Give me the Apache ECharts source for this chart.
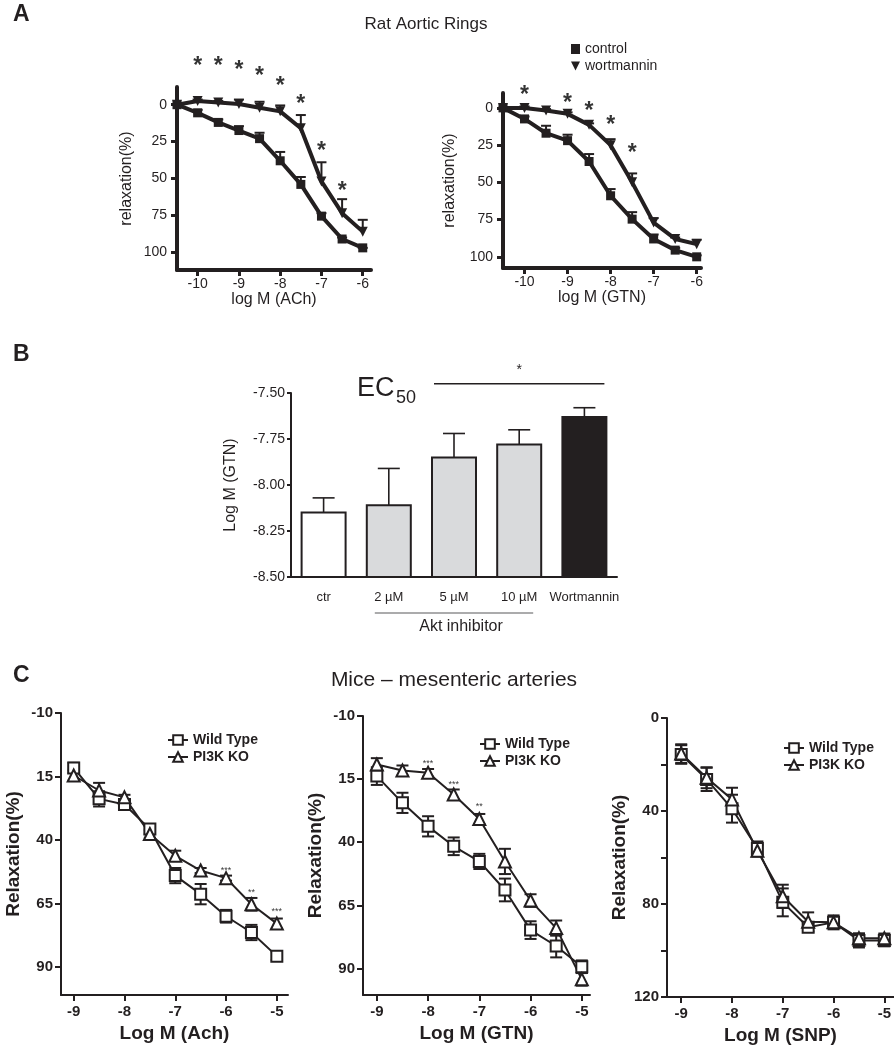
<!DOCTYPE html>
<html><head><meta charset="utf-8">
<script src="https://cdn.jsdelivr.net/npm/echarts@6/dist/echarts.min.js"></script>
<style>html,body{margin:0;padding:0;background:#fff}#c{width:894px;height:1050px}</style>
</head><body><div id="c"></div>
<script>
// ---------- Panel A : Rat aortic rings ----------
const logA = [-10.5,-10,-9.5,-9,-8.5,-8,-7.5,-7,-6.5,-6];
const achCtrl = [0,5.5,12,17.5,23,38,54,75.5,91,97];
const achCtrlErr = [0,2,2,3,4,6,5,2,1,0];
const achWort = [0,-2.5,-1.5,-0.5,2,4.5,16,52,73.5,86];
const achWortErr = [0,1,1,3,4,4,9,13,9.5,8];
const achStarX = [-10,-9.5,-9,-8.5,-8,-7.5,-7,-6.5];
const achStarY = [-28,-28,-25,-21,-14,-2,30,57];
const gtnCtrl = [0,7.4,17,22,36,59,74.7,88,95.5,100];
const gtnCtrlErr = [0,1.6,5,4,5,4.5,4.7,3,1.5,1];
const gtnWort = [0,0,1.8,4,11.4,25,50,77,88,91.5];
const gtnWortErr = [0,1,1,1,1,4,6,3,1,3];
const gtnStarX = [-10,-9,-8.5,-8,-7.5];
const gtnStarY = [-10.5,-5,0.2,10,28.7];
const aYTicks = [0,25,50,75,100];
const aXTicks = [-10,-9,-8,-7,-6];

// ---------- Panel B : EC50 ----------
const ec50Cats = ['ctr','2 \u00b5M','5 \u00b5M','10 \u00b5M','Wortmannin'];
const ec50Vals = [-8.15,-8.11,-7.85,-7.78,-7.63];
const ec50Err = [0.08,0.20,0.13,0.08,0.05];

// ---------- Panel C : Mice mesenteric arteries ----------
const logC = [-9,-8.5,-8,-7.5,-7,-6.5,-6,-5.5,-5];
const cXTicks = [-9,-8,-7,-6,-5];
const cYTicks = [-10,15,40,65,90];
const snpYTicks = [0,20,40,60,80,100,120];
const snpYLabels = [0,40,80,120];
const achWT = [11.6,23.8,26,35.7,54,61.3,70,76.4,85.7];
const achWTErr = [2,3,1.5,2,3,4,2.5,3,1.5];
const achKO = [14.6,20.5,23.2,37.6,46.2,52,55,65.3,72.9];
const achKOErr = [2,3,1,1.5,2,1,1,2.5,2];
const achCStarX = [-6,-5.5,-5];
const achCStarY = [51.4,60,67.2];
const achCStarTxt = ['***','**','***'];
const gtnWT = [13.8,24.4,33.7,41.6,47.6,58.9,74.8,81.1,89.3];
const gtnWTErr = [3.5,4,4,3.5,3,4.5,3.5,4.5,2.5];
const gtnKO = [9.2,11.6,12.5,21.1,30.8,47.6,63.1,74,94.3];
const gtnKOErr = [2.5,2,1.5,2,2,5,2.5,3,2.5];
const gtnCStarX = [-8,-7.5,-7];
const gtnCStarY = [7.9,16.5,25.1];
const gtnCStarTxt = ['***','***','**'];
const snpWT = [15.7,26.4,39,56.1,79.3,90,87.9,95.7,95.7];
const snpWTErr = [4,5,6,3,6,2,2,3,2.5];
const snpKO = [15.3,25.7,35,57.1,76.7,87.6,87.9,94.7,94.7];
const snpKOErr = [4,4.5,5,2.5,5,4,3,2,2];

// ---------- styling ----------
const INK = '#231f20';
const FONT = '"Liberation Sans", Arial, sans-serif';
const barFill = ['#ffffff','#d9dadc','#d9dadc','#d9dadc','#231f20'];

const zip = (xs, ys) => xs.map((x, i) => [x, ys[i]]);

function errSeries(ax, xs, vs, es, mode, lw, cap) {
  return {
    type: 'custom', xAxisIndex: ax, yAxisIndex: ax, silent: true, z: 2, clip: false,
    encode: { x: 0, y: [1, 2, 3] },
    data: xs.map((x, i) => [x, vs[i], vs[i] - es[i], vs[i] + es[i]]),
    renderItem: function (p, api) {
      const x = api.value(0), v = api.value(1), lo = api.value(2), hi = api.value(3);
      const st = { stroke: INK, lineWidth: lw };
      let a, b;
      if (mode === 'up') { a = api.coord([x, v]); b = api.coord([x, lo]); }
      else { a = api.coord([x, lo]); b = api.coord([x, hi]); }
      const ch = [
        { type: 'line', shape: { x1: a[0], y1: a[1], x2: b[0], y2: b[1] }, style: st },
        { type: 'line', shape: { x1: b[0] - cap, y1: b[1], x2: b[0] + cap, y2: b[1] }, style: st }
      ];
      if (mode !== 'up') ch.push({ type: 'line', shape: { x1: a[0] - cap, y1: a[1], x2: a[0] + cap, y2: a[1] }, style: st });
      return { type: 'group', children: ch };
    }
  };
}

function lineA(ax, name, ys, sym, rot) {
  return {
    type: 'line', name: name, xAxisIndex: ax, yAxisIndex: ax, data: zip(logA, ys),
    symbol: sym, symbolRotate: rot, symbolSize: sym === 'rect' ? 9 : 10, z: 3,
    lineStyle: { color: INK, width: 4 }, itemStyle: { color: INK }, silent: true
  };
}
function lineC(ax, name, ys, sym) {
  return {
    type: 'line', name: name, xAxisIndex: ax, yAxisIndex: ax, data: zip(logC, ys),
    symbol: sym, symbolSize: sym === 'rect' ? 11 : 12, z: 3,
    lineStyle: { color: INK, width: 2 },
    itemStyle: { color: '#ffffff', borderColor: INK, borderWidth: 2 }, silent: true
  };
}
function stars(ax, xs, ys, txt, size, dy, weight) {
  return {
    type: 'scatter', xAxisIndex: ax, yAxisIndex: ax, clip: false, silent: true, z: 5,
    symbol: 'circle', symbolSize: 1, itemStyle: { color: 'rgba(0,0,0,0)' },
    data: xs.map((x, i) => ({ value: [x, ys[i]], label: { formatter: Array.isArray(txt) ? txt[i] : txt } })),
    label: { show: true, position: 'inside', color: '#000000', fontSize: size, fontWeight: weight, fontFamily: FONT, offset: [0, dy] }
  };
}

function xAxisA(gi, min, max, name) {
  return {
    type: 'value', gridIndex: gi, min: min, max: max, name: name, nameLocation: 'middle', nameGap: 22,
    nameTextStyle: { fontSize: 16, color: INK, fontFamily: FONT },
    axisLine: { onZero: false, lineStyle: { color: INK, width: 4 } },
    axisTick: { length: 6, lineStyle: { width: 3, color: INK }, customValues: aXTicks },
    axisLabel: { fontSize: 14, color: INK, fontFamily: FONT, margin: 7, customValues: aXTicks },
    splitLine: { show: false }
  };
}
function yAxisA(gi, min, max, gap) {
  return {
    type: 'value', gridIndex: gi, min: min, max: max, inverse: true, name: 'relaxation(%)',
    nameLocation: 'middle', nameGap: gap, nameTextStyle: { fontSize: 16, color: INK, fontFamily: FONT },
    axisLine: { onZero: false, lineStyle: { color: INK, width: 4 } },
    axisTick: { length: 6, lineStyle: { width: 3, color: INK }, customValues: aYTicks },
    axisLabel: { fontSize: 14, color: INK, fontFamily: FONT, margin: 10, customValues: aYTicks },
    splitLine: { show: false }
  };
}
function xAxisC(gi, min, max, name) {
  return {
    type: 'value', gridIndex: gi, min: min, max: max, name: name, nameLocation: 'middle', nameGap: 29,
    nameTextStyle: { fontSize: 19, fontWeight: 'bold', color: INK, fontFamily: FONT },
    axisLine: { onZero: false, lineStyle: { color: INK, width: 2 } },
    axisTick: { length: 6, lineStyle: { width: 2, color: INK }, customValues: cXTicks },
    axisLabel: { fontSize: 15, fontWeight: 'bold', color: INK, fontFamily: FONT, margin: 9, customValues: cXTicks },
    splitLine: { show: false }
  };
}
function yAxisC(gi, min, max, ticks, labels, gap) {
  return {
    type: 'value', gridIndex: gi, min: min, max: max, inverse: true, name: 'Relaxation(%)',
    nameLocation: 'middle', nameGap: gap,
    nameTextStyle: { fontSize: 19, fontWeight: 'bold', color: INK, fontFamily: FONT },
    axisLine: { onZero: false, lineStyle: { color: INK, width: 2 } },
    axisTick: { length: 6, lineStyle: { width: 2, color: INK }, customValues: ticks },
    axisLabel: { fontSize: 15, fontWeight: 'bold', color: INK, fontFamily: FONT, margin: 8, customValues: labels },
    splitLine: { show: false }
  };
}
function legendC(left, top) {
  return {
    left: left, top: top, orient: 'vertical', itemWidth: 20, itemHeight: 12, itemGap: 3,
    textStyle: { fontSize: 14, fontWeight: 'bold', color: INK, fontFamily: FONT },
    data: ['Wild Type', 'PI3K KO'], selectedMode: false
  };
}

const option = {
  animation: false,
  backgroundColor: '#ffffff',
  textStyle: { fontFamily: FONT, color: INK },
  grid: [
    { left: 177, top: 87, width: 194, height: 183 },
    { left: 503, top: 93, width: 198, height: 175 },
    { left: 291, top: 393, width: 326, height: 184 },
    { left: 61, top: 713, width: 227, height: 282 },
    { left: 363, top: 716, width: 227, height: 279 },
    { left: 667, top: 718, width: 227, height: 279 }
  ],
  xAxis: [
    xAxisA(0, -10.5, -5.8, 'log M (ACh)'),
    xAxisA(1, -10.5, -5.9, 'log M (GTN)'),
    {
      type: 'category', gridIndex: 2, data: ec50Cats,
      axisLine: { onZero: false, lineStyle: { color: INK, width: 2 } },
      axisTick: { alignWithLabel: true, length: 5, lineStyle: { width: 2, color: INK } },
      axisLabel: { interval: 0, fontSize: 13, color: INK, fontFamily: FONT, margin: 14 }
    },
    xAxisC(3, -9.25, -4.78, 'Log M (Ach)'),
    xAxisC(4, -9.27, -4.84, 'Log M (GTN)'),
    xAxisC(5, -9.28, -4.81, 'Log M (SNP)')
  ],
  yAxis: [
    yAxisA(0, -12, 112, 42),
    yAxisA(1, -10, 107.5, 45),
    {
      type: 'value', gridIndex: 2, min: -8.5, max: -7.5, interval: 0.25,
      name: 'Log M (GTN)', nameLocation: 'middle', nameGap: 52,
      nameTextStyle: { fontSize: 16, color: INK, fontFamily: FONT },
      axisLine: { show: true, onZero: false, lineStyle: { color: INK, width: 2 } },
      axisTick: { show: true, length: 4, lineStyle: { width: 2, color: INK } },
      axisLabel: { fontSize: 14, color: INK, fontFamily: FONT, margin: 6, formatter: v => v.toFixed(2) },
      splitLine: { show: false }
    },
    yAxisC(3, -10, 101, cYTicks, cYTicks, 38),
    yAxisC(4, -10, 100.5, cYTicks, cYTicks, 38),
    yAxisC(5, 0, 120, snpYTicks, snpYLabels, 38)
  ],
  legend: [
    {
      left: 566, top: 37, orient: 'vertical', itemWidth: 9, itemHeight: 10, itemGap: 3,
      textStyle: { fontSize: 14, color: INK, fontFamily: FONT },
      data: [{ name: 'control', icon: 'rect' }, { name: 'wortmannin', icon: 'path://M0,0L10,0L5,10Z' }],
      selectedMode: false
    },
    legendC(162, 728),
    legendC(474, 732),
    legendC(778, 736)
  ],
  graphic: [
    { type: 'text', left: 13, top: 3, style: { text: 'A', font: 'bold 23px ' + FONT, fill: INK } },
    { type: 'text', x: 426, y: 24, style: { text: 'Rat Aortic Rings', font: '17px ' + FONT, fill: INK, align: 'center', verticalAlign: 'middle' } },
    { type: 'text', left: 13, top: 343, style: { text: 'B', font: 'bold 23px ' + FONT, fill: INK } },
    { type: 'text', x: 357, y: 389, style: { text: 'EC', font: '27px ' + FONT, fill: INK, verticalAlign: 'middle' } },
    { type: 'text', x: 396, y: 398, style: { text: '50', font: '18px ' + FONT, fill: INK, verticalAlign: 'middle' } },
    { type: 'text', left: 13, top: 664, style: { text: 'C', font: 'bold 23px ' + FONT, fill: INK } },
    { type: 'text', x: 454, y: 680, style: { text: 'Mice \u2013 mesenteric arteries', font: '21px ' + FONT, fill: INK, align: 'center', verticalAlign: 'middle' } }
  ],
  series: [
    // A left (ACh)
    errSeries(0, logA, achCtrl, achCtrlErr, 'up', 2, 5),
    errSeries(0, logA, achWort, achWortErr, 'up', 2, 5),
    lineA(0, 'control', achCtrl, 'rect', 0),
    lineA(0, 'wortmannin', achWort, 'triangle', 180),
    stars(0, achStarX, achStarY, '*', 23, 3, 'bold'),
    // A right (GTN)
    errSeries(1, logA, gtnCtrl, gtnCtrlErr, 'up', 2, 5),
    errSeries(1, logA, gtnWort, gtnWortErr, 'up', 2, 5),
    lineA(1, 'control', gtnCtrl, 'rect', 0),
    lineA(1, 'wortmannin', gtnWort, 'triangle', 180),
    stars(1, gtnStarX, gtnStarY, '*', 23, 3, 'bold'),
    // B bars
    {
      type: 'custom', xAxisIndex: 2, yAxisIndex: 2, silent: true, clip: false,
      encode: { x: 0, y: [1, 2] },
      data: ec50Vals.map((v, i) => [i, v, v + ec50Err[i]]),
      renderItem: function (p, api) {
        const i = api.value(0);
        const base = api.coord([i, -8.5]), top = api.coord([i, api.value(1)]), et = api.coord([i, api.value(2)]);
        const w = 44, st = { stroke: INK, lineWidth: 1.6 };
        return { type: 'group', children: [
          { type: 'line', shape: { x1: top[0], y1: top[1], x2: et[0], y2: et[1] }, style: st },
          { type: 'line', shape: { x1: et[0] - 11, y1: et[1], x2: et[0] + 11, y2: et[1] }, style: st },
          { type: 'rect', shape: { x: top[0] - w / 2, y: top[1], width: w, height: base[1] - top[1] },
            style: { fill: barFill[i], stroke: INK, lineWidth: 2 } }
        ] };
      }
    },
    // B annotations (significance bar, Akt inhibitor bracket)
    {
      type: 'custom', xAxisIndex: 2, yAxisIndex: 2, silent: true, clip: false,
      data: [[0, -8.5]],
      renderItem: function (p, api) {
        const s1 = api.coord([2, -7.45]), s2 = api.coord([4, -7.45]);
        const b = api.coord([1, -8.5]), c = api.coord([3, -8.5]);
        return { type: 'group', children: [
          { type: 'line', shape: { x1: s1[0] - 20, y1: s1[1], x2: s2[0] + 20, y2: s2[1] }, style: { stroke: INK, lineWidth: 1.5 } },
          { type: 'text', style: { text: '*', x: (s1[0] + s2[0]) / 2, y: s1[1] - 14, align: 'center', verticalAlign: 'middle', font: '14px ' + FONT, fill: INK } },
          { type: 'line', shape: { x1: b[0] - 14, y1: b[1] + 36, x2: c[0] + 14, y2: c[1] + 36 }, style: { stroke: '#58595b', lineWidth: 1.2 } },
          { type: 'text', style: { text: 'Akt inhibitor', x: (b[0] + c[0]) / 2 + 7, y: b[1] + 50, align: 'center', verticalAlign: 'middle', font: '16px ' + FONT, fill: INK } }
        ] };
      }
    },
    // C left (Ach)
    errSeries(3, logC, achWT, achWTErr, 'both', 2, 6),
    errSeries(3, logC, achKO, achKOErr, 'both', 2, 6),
    lineC(3, 'Wild Type', achWT, 'rect'),
    lineC(3, 'PI3K KO', achKO, 'triangle'),
    stars(3, achCStarX, achCStarY, achCStarTxt, 9, 2, 'normal'),
    // C middle (GTN)
    errSeries(4, logC, gtnWT, gtnWTErr, 'both', 2, 6),
    errSeries(4, logC, gtnKO, gtnKOErr, 'both', 2, 6),
    lineC(4, 'Wild Type', gtnWT, 'rect'),
    lineC(4, 'PI3K KO', gtnKO, 'triangle'),
    stars(4, gtnCStarX, gtnCStarY, gtnCStarTxt, 9, 2, 'normal'),
    // C right (SNP)
    errSeries(5, logC, snpWT, snpWTErr, 'both', 2, 6),
    errSeries(5, logC, snpKO, snpKOErr, 'both', 2, 6),
    lineC(5, 'Wild Type', snpWT, 'rect'),
    lineC(5, 'PI3K KO', snpKO, 'triangle')
  ]
};

const chart = echarts.init(document.getElementById('c'), null, { renderer: 'canvas' });
chart.setOption(option);
</script>
</body></html>
